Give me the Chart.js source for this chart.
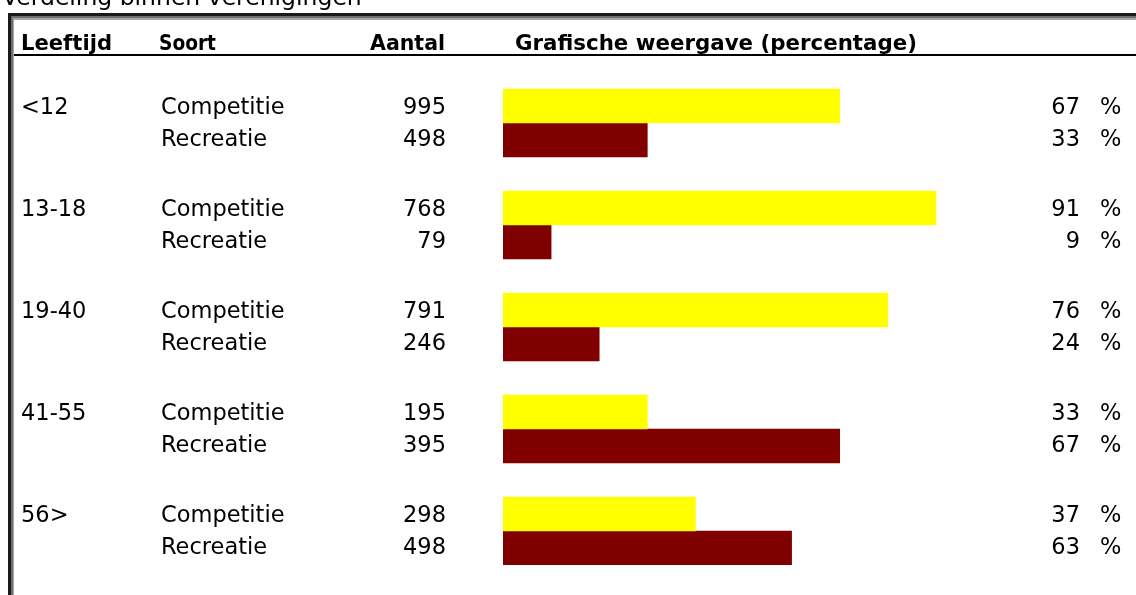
<!DOCTYPE html>
<html>
<head>
<meta charset="utf-8">
<script src="https://cdn.jsdelivr.net/npm/chart.js@4/dist/chart.umd.min.js"></script>
<style>
  html, body { margin: 0; padding: 0; background: #ffffff; }
  #wrap { position: relative; width: 1136px; height: 595px; overflow: hidden; }
  canvas { display: block; }
</style>
</head>
<body>
<div id="wrap"><canvas id="c" width="1136" height="595"></canvas></div>
<script>
// ---- data ----
const chartTitle = 'Verdeling binnen verenigingen';
const headers = ['Leeftijd', 'Soort', 'Aantal', 'Grafische weergave (percentage)'];
const ageGroups = ['<12', '13-18', '19-40', '41-55', '56>'];
const soortLabels = ['Competitie', 'Recreatie'];
const aantalCompetitie = [995, 768, 791, 195, 298];
const aantalRecreatie = [498, 79, 246, 395, 498];
const pctCompetitie = [67, 91, 76, 33, 37];
const pctRecreatie = [33, 9, 24, 67, 63];
// drawn bar lengths (the reference draws bars in 10% blocks)
const barCompetitie = [70, 90, 80, 30, 40];
const barRecreatie = [30, 10, 20, 70, 60];

// ---- build rows: blank spacer, Competitie, Recreatie per group ----
const rowLabels = [];
const compRows = [];
const recRows = [];
ageGroups.forEach((g, i) => {
  rowLabels.push(g + ' ');
  compRows.push(null); recRows.push(null);
  rowLabels.push(g + ' ' + soortLabels[0]);
  compRows.push(barCompetitie[i]); recRows.push(null);
  rowLabels.push(g + ' ' + soortLabels[1]);
  compRows.push(null); recRows.push(barRecreatie[i]);
});

const FONT = "'DejaVu Sans', Verdana, sans-serif";

const tablePlugin = {
  id: 'tablePlugin',
  beforeDraw(chart) {
    const ctx = chart.ctx;
    const W = chart.width, H = chart.height;
    ctx.save();
    ctx.fillStyle = '#ffffff';
    ctx.fillRect(0, 0, W, H);
    // title (partly clipped at the top)
    ctx.fillStyle = '#000000';
    ctx.font = '23.5px ' + FONT;
    ctx.textAlign = 'left';
    ctx.textBaseline = 'alphabetic';
    ctx.fillText(chartTitle, 2, 5, 366);
    // 3D frame
    ctx.fillStyle = '#1a1a1a';
    ctx.fillRect(8, 13, W - 8, 3);
    ctx.fillRect(8, 13, 3, H - 13);
    ctx.fillStyle = '#6e6e6e';
    ctx.fillRect(11, 16, W - 11, 2);
    ctx.fillRect(11, 16, 2, H - 16);
    ctx.fillStyle = '#a6a6a6';
    ctx.fillRect(13, 18, W - 13, 2);
    ctx.fillRect(13, 18, 1, H - 18);
    // header
    ctx.fillStyle = '#000000';
    ctx.font = 'bold 21.5px ' + FONT;
    ctx.textAlign = 'left';
    ctx.fillText(headers[0], 21, 50, 91);
    ctx.fillText(headers[1], 159, 50, 57);
    ctx.textAlign = 'right';
    ctx.fillText(headers[2], 445, 50, 75);
    ctx.textAlign = 'left';
    ctx.fillText(headers[3], 515, 50, 402);
    ctx.fillRect(14, 54, W - 14, 2);
    ctx.restore();
  },
  afterDraw(chart) {
    const ctx = chart.ctx;
    const y = chart.scales.y;
    ctx.save();
    ctx.fillStyle = '#000000';
    ctx.font = '22.5px ' + FONT;
    ctx.textBaseline = 'alphabetic';
    ageGroups.forEach((g, i) => {
      const rows = [
        { idx: i * 3 + 1, soort: soortLabels[0], n: aantalCompetitie[i], p: pctCompetitie[i], off: 8 },
        { idx: i * 3 + 2, soort: soortLabels[1], n: aantalRecreatie[i], p: pctRecreatie[i], off: 6 }
      ];
      rows.forEach((r, j) => {
        const yy = y.getPixelForValue(r.idx) + r.off;
        ctx.textAlign = 'left';
        if (j === 0) ctx.fillText(g, 21, yy);
        ctx.fillText(r.soort, 161, yy);
        ctx.textAlign = 'right';
        ctx.fillText(String(r.n), 446, yy);
        ctx.fillText(String(r.p), 1080, yy);
        ctx.textAlign = 'left';
        ctx.fillText('%', 1100, yy);
      });
    });
    ctx.restore();
  }
};

new Chart(document.getElementById('c'), {
  type: 'bar',
  data: {
    labels: rowLabels,
    datasets: [
      { label: soortLabels[0], data: compRows, backgroundColor: '#ffff00', borderWidth: 0,
        barPercentage: 1, categoryPercentage: 1 },
      { label: soortLabels[1], data: recRows, backgroundColor: '#800000', borderWidth: 0,
        barPercentage: 1, categoryPercentage: 1 }
    ]
  },
  options: {
    indexAxis: 'y',
    responsive: false,
    animation: false,
    devicePixelRatio: 1,
    layout: { padding: { left: 503, right: 152, top: 55, bottom: 30 } },
    scales: {
      x: { type: 'linear', min: 0, max: 100, display: false, stacked: true },
      y: { type: 'category', display: false, stacked: true }
    },
    plugins: {
      legend: { display: false },
      title: { display: false },
      tooltip: { enabled: false }
    }
  },
  plugins: [tablePlugin]
});
</script>
</body>
</html>
